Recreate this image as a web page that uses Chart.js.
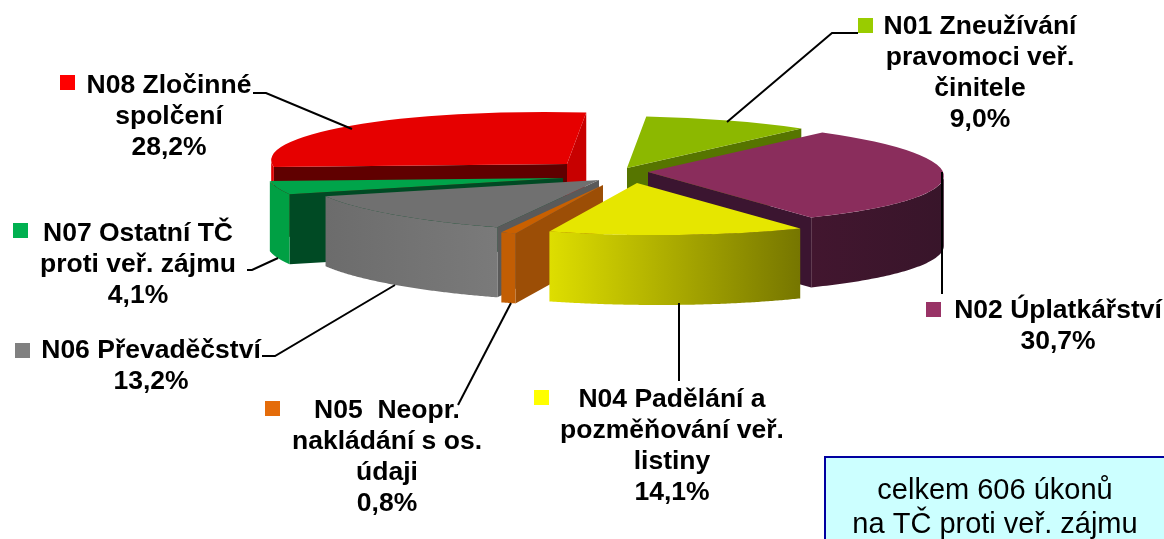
<!DOCTYPE html>
<html>
<head>
<meta charset="utf-8">
<title>Úkony na TČ proti veř. zájmu</title>
<script src="https://cdn.jsdelivr.net/npm/chart.js@4"></script>
<style>
  html, body { margin: 0; padding: 0; background: #fff; overflow: hidden; }
  canvas { display: block; }
</style>
</head>
<body>
<canvas id="pie" width="1164" height="539"></canvas>
<script>
// Data
const categories = ['N01', 'N02', 'N04', 'N05', 'N06', 'N07', 'N08'];
const values = [9.0, 30.7, 14.1, 0.8, 13.2, 4.1, 28.2];
const labelLines = [
  ['N01 Zneužívání', 'pravomoci veř.', 'činitele'],
  ['N02 Úplatkářství'],
  ['N04 Padělání a', 'pozměňování veř.', 'listiny'],
  ['N05  Neopr.', 'nakládání s os.', 'údaji'],
  ['N06 Převaděčství'],
  ['N07 Ostatní TČ', 'proti veř. zájmu'],
  ['N08 Zločinné', 'spolčení'],
];
const noteLines = ['celkem 606 úkonů', 'na TČ proti veř. zájmu'];

// Slice colours
const topColors = ['#8CB800', '#8A2D5C', '#E6E600', '#C96000', '#707070', '#00A44A', '#E60000'];
const legendColors = ['#99CC00', '#993366', '#FFFF00', '#E46C0A', '#808080', '#00B050', '#FF0000'];
const rimColors = [
  ['#6A8C00', '#6A8C00'], ['#42162F', '#38152A'], ['#DEDE00', '#767600'], ['#C25E04', '#C25E04'],
  ['#6C6C6C', '#7A7A7A'], ['#00A044', '#00A044'], ['#E00000', '#E00000'],
];
const startWallColors = ['#567500', '#3B1530', '#8A8A00', '#9C4E06', '#5A5A5A', '#004A24', '#600000'];
const endWallColors = ['#567500', '#3B1530', '#8A8A00', '#9C4E06', '#5A5A5A', '#004A24', '#C80000'];

// Pie projection
const pieCenter = { x: 604, y: 174 };
const radiusX = 295;
const radiusY = 52;
const shear = 22;
const depth = 70;
const firstAngle = 8;
const explode = [[23, -6], [44, -2], [33, 9], [-1, 11], [-5, 6], [-41, 4], [-37, -10]];
const paintOrder = [6, 0, 1, 5, 4, 3, 2];

// Label layout: centre x, first line y, marker x, marker y
const labelPos = [
  [980, 27, 858, 18], [1058, 311, 926, 302], [672, 400, 534, 390], [387, 411, 265, 401],
  [151, 351, 15, 343], [138, 234, 13, 223], [169, 86, 60, 75],
];
const leaderLines = [
  [[858, 33], [832, 33], [727, 122]],
  [[942, 172], [942, 294]],
  [[679, 303], [679, 381]],
  [[511, 303], [458, 405]],
  [[262, 356], [275, 356], [395, 285]],
  [[247, 270], [252, 270], [278, 258]],
  [[253, 93], [266, 93], [352, 129]],
];
const lineHeight = 31;
const noteBox = { x: 825, y: 457, w: 345, h: 90 };

function rimPoint(t, i) {
  return {
    x: pieCenter.x + explode[i][0] + radiusX * Math.cos(t) + shear * Math.sin(t),
    y: pieCenter.y + explode[i][1] + radiusY * Math.sin(t),
  };
}

function fillWall(ctx, points, color) {
  ctx.fillStyle = color;
  ctx.beginPath();
  points.forEach((p, n) => (n ? ctx.lineTo(p.x, p.y) : ctx.moveTo(p.x, p.y)));
  for (let n = points.length - 1; n >= 0; n--) ctx.lineTo(points[n].x, points[n].y + depth);
  ctx.closePath();
  ctx.fill();
}

function drawWalls(ctx, arc, i) {
  const apex = { x: pieCenter.x + explode[i][0], y: pieCenter.y + explode[i][1] };
  // radial cut faces, only where they turn towards the viewer
  if (Math.cos(arc.startAngle) < 0) fillWall(ctx, [apex, rimPoint(arc.startAngle, i)], startWallColors[i]);
  if (Math.cos(arc.endAngle) > 0) fillWall(ctx, [apex, rimPoint(arc.endAngle, i)], endWallColors[i]);
  // outer rim, front half only
  const skew = Math.atan2(shear, radiusX);
  const rim = [];
  for (let n = 0; n <= 120; n++) {
    const t = arc.startAngle + (arc.endAngle - arc.startAngle) * n / 120;
    if (Math.sin(t - skew) >= 0) rim.push(rimPoint(t, i));
  }
  if (rim.length > 1) {
    const grad = ctx.createLinearGradient(rim[0].x, 0, rim[rim.length - 1].x, 0);
    grad.addColorStop(0, rimColors[i][1]);
    grad.addColorStop(1, rimColors[i][0]);
    fillWall(ctx, rim, grad);
  }
}

const pie3d = {
  id: 'pie3d',
  beforeDatasetDraw(chart, args) {
    const ctx = chart.ctx;
    const arcs = args.meta.data;
    paintOrder.forEach((i) => {
      const arc = arcs[i];
      drawWalls(ctx, arc, i);
      const r = arc.outerRadius;
      ctx.save();
      ctx.translate(pieCenter.x + explode[i][0], pieCenter.y + explode[i][1]);
      ctx.transform(radiusX / r, 0, shear / r, radiusY / r, 0, 0);
      ctx.translate(-arc.x, -arc.y);
      arc.draw(ctx);
      ctx.restore();
    });
    return false;
  },
  afterDraw(chart) {
    const ctx = chart.ctx;
    ctx.save();
    // leader lines
    ctx.strokeStyle = '#000';
    ctx.lineWidth = 2;
    leaderLines.forEach((line) => {
      ctx.beginPath();
      line.forEach((p, n) => (n ? ctx.lineTo(p[0], p[1]) : ctx.moveTo(p[0], p[1])));
      ctx.stroke();
    });
    // category labels
    ctx.textAlign = 'center';
    ctx.textBaseline = 'middle';
    ctx.font = 'bold 26.5px "Liberation Sans"';
    categories.forEach((name, i) => {
      const pos = labelPos[i];
      const text = labelLines[i].concat(values[i].toFixed(1).replace('.', ',') + '%');
      ctx.fillStyle = '#000';
      text.forEach((t, n) => ctx.fillText(t, pos[0], pos[1] + n * lineHeight));
      ctx.fillStyle = legendColors[i];
      ctx.fillRect(pos[2], pos[3], 15, 15);
    });
    // note box, runs off the bottom of the page
    ctx.fillStyle = '#CCFFFF';
    ctx.strokeStyle = '#0000A0';
    ctx.lineWidth = 2;
    ctx.fillRect(noteBox.x, noteBox.y, noteBox.w, noteBox.h);
    ctx.strokeRect(noteBox.x, noteBox.y, noteBox.w, noteBox.h);
    ctx.fillStyle = '#000';
    ctx.font = '29px "Liberation Sans"';
    noteLines.forEach((t, n) => ctx.fillText(t, 995, 491 + n * 34));
    ctx.restore();
  },
};

new Chart(document.getElementById('pie'), {
  type: 'pie',
  data: {
    labels: categories,
    datasets: [{
      data: values,
      backgroundColor: topColors,
      borderWidth: 0,
    }],
  },
  options: {
    responsive: false,
    animation: false,
    events: [],
    rotation: firstAngle,
    layout: { padding: 0 },
    plugins: { legend: { display: false }, tooltip: { enabled: false } },
  },
  plugins: [pie3d],
});
</script>
</body>
</html>
